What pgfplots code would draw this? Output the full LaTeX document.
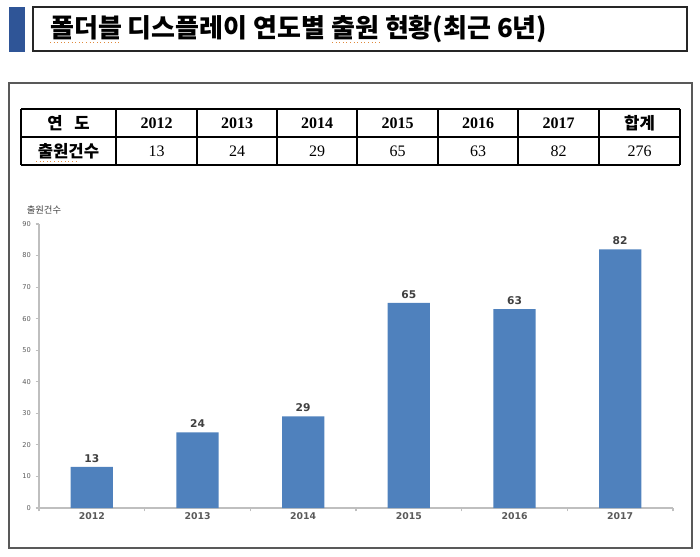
\documentclass[border=0pt]{standalone}
\usepackage{fontspec}
\usepackage{pgfplots}
\pgfplotsset{compat=1.18}
\setmainfont{Liberation Serif}
\newfontfamily\kr{Noto Sans CJK KR}
\newfontfamily\dv{DejaVu Sans}
\definecolor{barblue}{HTML}{4F81BD}
\definecolor{darkblue}{HTML}{2F5597}
\definecolor{axgray}{HTML}{BFBFBF}
\definecolor{txtgray}{HTML}{595959}
\definecolor{lblgray}{HTML}{404040}
\definecolor{spell}{HTML}{E08A3C}
\begin{document}
\begin{tikzpicture}[x=0.75pt,y=-0.75pt]
\path[use as bounding box] (0,0) rectangle (700,557);
% title
\fill[darkblue] (9,7) rectangle (25,52);
\draw[line width=0.8pt, black!85] (33,7) rectangle (687,51);
\node[anchor=west, inner sep=0pt, font=\kr\bfseries\fontsize{19.5}{21}\selectfont] at (50,29) {폴더블 디스플레이 연도별 출원 현황(최근 6년)};
\draw[spell, dotted, line width=0.7pt] (50,42) -- (119,42);
\draw[spell, dotted, line width=0.7pt] (332,42) -- (382,42);
% frame
\draw[line width=1.1pt, black!65] (9,83) rectangle (692,548);
% table
\foreach \y in {109,137,165} \draw[line width=0.8pt] (21,\y) -- (680,\y);
\foreach \x in {21,116,197,277,357,438,518,599,680} \draw[line width=0.8pt] (\x,109) -- (\x,165);
\node[font=\kr\bfseries\fontsize{12.5}{14}\selectfont] at (68.5,123) {연\hspace{0.7em}도};
\node[font=\kr\bfseries\fontsize{12.5}{14}\selectfont] at (68.5,151) {출원건수};
\draw[spell, dotted, line width=0.7pt] (36,161) -- (77,161);
\foreach \x/\t in {156.5/2012,237/2013,317/2014,397.5/2015,478/2016,558.5/2017}
  \node[font=\bfseries\fontsize{12}{14}\selectfont] at (\x,123) {\t};
\node[font=\kr\bfseries\fontsize{12.5}{14}\selectfont] at (639.5,123) {합계};
\foreach \x/\t in {156.5/13,237/24,317/29,397.5/65,478/63,558.5/82,639.5/276}
  \node[font=\fontsize{12}{14}\selectfont] at (\x,151) {\t};
% y axis title
\node[font=\kr\fontsize{7}{8}\selectfont, text=lblgray] at (44,210) {출원건수};
\begin{axis}[
  at={(29.25pt,-381pt)}, anchor=south west,
  scale only axis, width=475.5pt, height=213pt,
  /pgf/number format/assume math mode=true,
  xmin=-0.5, xmax=5.5, ymin=0, ymax=90,
  axis x line*=bottom, axis y line*=left,
  axis line style={axgray, line width=1.1pt, -},
  ytick={0,10,...,90}, tick align=outside, major tick length=2.6pt,
  yticklabel style={font=\dv\fontsize{5}{6}\selectfont, text=txtgray},
  xtick={-0.5,0.5,...,5.5}, xticklabels={},
  tick style={axgray, line width=0.8pt},
  extra x ticks={0,1,2,3,4,5},
  extra x tick labels={2012,2013,2014,2015,2016,2017},
  extra x tick style={major tick length=0pt, tick style={draw=none},
    xticklabel style={font=\dv\bfseries\fontsize{7}{8}\selectfont, text=txtgray}},
  ybar, bar width=0.4,
  nodes near coords,
  every node near coord/.append style={font=\dv\bfseries\fontsize{8}{9}\selectfont, text=lblgray},
]
\addplot[fill=barblue, draw=none] coordinates {(0,13)(1,24)(2,29)(3,65)(4,63)(5,82)};
\end{axis}
\end{tikzpicture}
\end{document}
